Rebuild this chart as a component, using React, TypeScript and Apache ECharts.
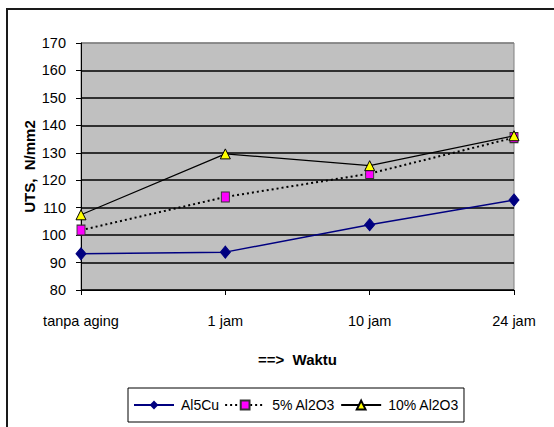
import React, { useEffect, useRef } from "react";
import * as echarts from "echarts";

// Aging time categories
const categories = ["tanpa aging", "1 jam", "10 jam", "24 jam"];

// Ultimate tensile strength (N/mm2) per material
const al5cu = [93.2, 93.8, 103.8, 112.8];
const al2o3_5 = [101.8, 113.9, 122.4, 135.5];
const al2o3_10 = [107.4, 129.6, 125.3, 136.2];

const seriesNames = ["Al5Cu", "5% Al2O3", "10% Al2O3"];

const yTicks = { min: 80, max: 170, interval: 10 };

const FONT = "'Liberation Sans', Arial, sans-serif";

export default function App() {
  const ref = useRef<HTMLDivElement>(null);

  useEffect(() => {
    if (!ref.current) return;
    const chart = echarts.init(ref.current, undefined, { renderer: "svg" });

    // split lines 80..170 — topmost one is the gray plot border
    const splitColors = Array.from({ length: 10 }, (_, i) => (i === 9 ? "#808080" : "#000000"));

    chart.setOption({
      animation: false,
      backgroundColor: "#ffffff",
      textStyle: { fontFamily: FONT },
      graphic: [
        {
          type: "rect",
          shape: { x: 7, y: 9, width: 620, height: 520 },
          style: { fill: "none", stroke: "#1a1a1a", lineWidth: 2 },
          silent: true,
        },
      ],
      grid: {
        left: 81,
        top: 43,
        right: 40,
        bottom: 137,
        show: true,
        backgroundColor: "#C0C0C0",
        borderColor: "#808080",
        borderWidth: 1,
      },
      legend: {
        left: 128,
        top: 388,
        orient: "horizontal",
        data: seriesNames,
        itemWidth: 40,
        itemHeight: 11,
        itemGap: 5,
        padding: [10, 5, 10, 5],
        borderColor: "#000",
        borderWidth: 1,
        backgroundColor: "#fff",
        textStyle: { fontFamily: FONT, fontSize: 14, color: "#000", padding: [0, 0, 0, 2] },
      },
      xAxis: {
        type: "category",
        data: categories,
        boundaryGap: false,
        name: "==>  Waktu",
        nameLocation: "middle",
        nameGap: 62,
        nameMoveOverlap: false,
        nameTextStyle: { fontFamily: FONT, fontSize: 15, fontWeight: "bold", color: "#000" },
        axisLine: { lineStyle: { color: "#000", width: 1 } },
        axisTick: { show: true, alignWithLabel: true, length: 5, lineStyle: { color: "#000" } },
        axisLabel: { fontFamily: FONT, fontSize: 14.5, color: "#000", margin: 23 },
      },
      yAxis: {
        type: "value",
        min: yTicks.min,
        max: yTicks.max,
        interval: yTicks.interval,
        name: "UTS,  N/mm2",
        nameLocation: "middle",
        nameGap: 44,
        nameMoveOverlap: false,
        nameRotate: 90,
        nameTextStyle: { fontFamily: FONT, fontSize: 15, fontWeight: "bold", color: "#000" },
        axisLine: { show: true, lineStyle: { color: "#000", width: 1 } },
        axisTick: { show: true, length: 5, lineStyle: { color: "#000" } },
        axisLabel: { fontFamily: FONT, fontSize: 14.5, color: "#000", margin: 15 },
        splitLine: { show: true, lineStyle: { color: splitColors, width: 1.5 } },
      },
      series: [
        {
          name: seriesNames[0],
          type: "line",
          data: al5cu,
          symbol: "diamond",
          symbolSize: [10, 12],
          lineStyle: { color: "#000080", width: 1.5 },
          itemStyle: { color: "#000080", borderColor: "#000080" },
          z: 3,
        },
        {
          name: seriesNames[1],
          type: "line",
          data: al2o3_5,
          symbol: "rect",
          symbolSize: [8, 10],
          lineStyle: { color: "#000", width: 2, type: [2, 3] },
          itemStyle: { color: "#FF00FF", borderColor: "#333", borderWidth: 1 },
          z: 4,
        },
        {
          name: seriesNames[2],
          type: "line",
          data: al2o3_10,
          symbol: "triangle",
          symbolSize: [10, 10],
          lineStyle: { color: "#000", width: 1.2 },
          itemStyle: { color: "#FFFF00", borderColor: "#000", borderWidth: 1 },
          z: 5,
        },
      ],
    });

    return () => chart.dispose();
  }, []);

  return (
    <div
      ref={ref}
      style={{ position: "fixed", left: 0, top: 0, width: 554, height: 427 }}
    />
  );
}
